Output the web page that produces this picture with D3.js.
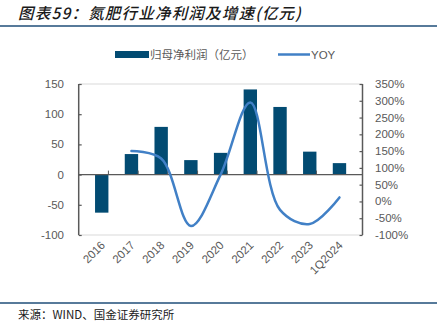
<!DOCTYPE html>
<html>
<head>
<meta charset="utf-8">
<script src="https://cdn.jsdelivr.net/npm/d3@7"></script>
<style>
  body { margin: 0; background: #fff; }
  svg { display: block; font-family: "Liberation Sans", Arial, sans-serif; }
</style>
</head>
<body>
<svg width="442" height="323"></svg>
<script>
// 年份 / 归母净利润（亿元） / YOY (%)
var years = ["2016", "2017", "2018", "2019", "2020", "2021", "2022", "2023", "1Q2024"];
var profit = [-63, 34, 79, 24, 36, 141, 112, 38, 19];
var yoy = [null, 150, 128, -73, 80, 295, -25, -67, 12];
var leftTicks = [-100, -50, 0, 50, 100, 150];
var rightTicks = [-100, -50, 0, 50, 100, 150, 200, 250, 300, 350];

var svg = d3.select("svg");
var cjk = '"Noto Sans CJK SC", sans-serif';
var axisColor = "#595959";

// title + rules
svg.append("text")
    .attr("x", 18).attr("y", 19)
    .attr("font-family", cjk)
    .attr("font-size", 15.5)
    .attr("font-style", "italic")
    .attr("font-weight", 500)
    .attr("letter-spacing", 1.2)
    .attr("fill", "#1a1a1a")
    .text("图表59：氮肥行业净利润及增速(亿元)");
svg.append("line").attr("x1", 0).attr("x2", 437).attr("y1", 26).attr("y2", 26)
    .attr("stroke", "#1f4e79").attr("stroke-width", 1.5);
svg.append("line").attr("x1", 0).attr("x2", 437).attr("y1", 303).attr("y2", 303)
    .attr("stroke", "#1f4e79").attr("stroke-width", 1.5);
svg.append("text")
    .attr("x", 18).attr("y", 319)
    .attr("font-family", cjk)
    .attr("font-size", 11.5)
    .attr("fill", "#1a1a1a")
    .text("来源：WIND、国金证券研究所");

var x = d3.scaleBand().domain(years).range([78.7, 362.5]).padding(0.55);
var yL = d3.scaleLinear().domain([-100, 150]).range([235, 84]);
var yR = d3.scaleLinear().domain([-100, 350]).range([235, 84]);
var step = x.step();
var x0 = 78.7, x1 = 362.5;

// top / bottom gridlines
svg.selectAll(".grid").data([150, -100]).enter().append("line")
    .attr("x1", x0).attr("x2", x1)
    .attr("y1", function(d) { return yL(d); })
    .attr("y2", function(d) { return yL(d); })
    .attr("stroke", "#d9d9d9").attr("stroke-width", 1);

// bars
svg.selectAll(".bar").data(profit).enter().append("rect")
    .attr("x", function(d, i) { return x(years[i]); })
    .attr("width", x.bandwidth())
    .attr("y", function(d) { return d >= 0 ? yL(d) : yL(0); })
    .attr("height", function(d) { return Math.abs(yL(d) - yL(0)); })
    .attr("fill", "#024b72");

// zero axis with category ticks
svg.append("line").attr("x1", x0).attr("x2", x1).attr("y1", yL(0)).attr("y2", yL(0))
    .attr("stroke", axisColor).attr("stroke-width", 1.2);
svg.selectAll(".ctick").data(d3.range(1, years.length)).enter().append("line")
    .attr("x1", function(d) { return x0 + d * step; })
    .attr("x2", function(d) { return x0 + d * step; })
    .attr("y1", yL(0)).attr("y2", yL(0) - 4)
    .attr("stroke", axisColor).attr("stroke-width", 1);

// left axis
var gl = svg.append("g").attr("transform", "translate(" + x0 + ",0)")
    .call(d3.axisRight(yL).tickValues(leftTicks).tickSize(3).tickFormat(""));
gl.select(".domain").attr("stroke", axisColor).attr("stroke-width", 1.5).attr("d", "M0," + yL(-100) + "V" + yL(150));
gl.selectAll(".tick line").attr("stroke", axisColor).attr("stroke-width", 1.2);
svg.selectAll(".ylab").data(leftTicks).enter().append("text")
    .attr("x", 64).attr("y", function(d) { return yL(d) + 4; })
    .attr("text-anchor", "end").attr("font-size", 11.5).attr("fill", axisColor)
    .text(function(d) { return d; });

// right axis
var gr = svg.append("g").attr("transform", "translate(" + x1 + ",0)")
    .call(d3.axisLeft(yR).tickValues(rightTicks).tickSize(3).tickFormat(""));
gr.select(".domain").attr("stroke", axisColor).attr("stroke-width", 1.5).attr("d", "M0," + yR(-100) + "V" + yR(350));
gr.selectAll(".tick line").attr("stroke", axisColor).attr("stroke-width", 1.2);
svg.selectAll(".rlab").data(rightTicks).enter().append("text")
    .attr("x", 375).attr("y", function(d) { return yR(d) + 4; })
    .attr("font-size", 11.5).attr("fill", axisColor)
    .text(function(d) { return d + "%"; });

// x labels
svg.selectAll(".xlab").data(years).enter().append("text")
    .attr("transform", function(d) {
        return "translate(" + (x(d) + x.bandwidth() / 2 + 4) + ",246) rotate(-45)";
    })
    .attr("text-anchor", "end").attr("font-size", 11.5).attr("fill", axisColor)
    .text(function(d) { return d; });

// YOY line
var pts = yoy.map(function(v, i) { return [x(years[i]) + x.bandwidth() / 2, v]; })
    .filter(function(p) { return p[1] !== null; });
var line = d3.line()
    .x(function(p) { return p[0]; })
    .y(function(p) { return yR(p[1]); })
    .curve(d3.curveCatmullRom.alpha(0.5));
svg.append("path").datum(pts).attr("d", line)
    .attr("fill", "none").attr("stroke", "#4180c6").attr("stroke-width", 2.5)
    .attr("stroke-linecap", "round");

// legend
svg.append("rect").attr("x", 115).attr("y", 51).attr("width", 34).attr("height", 7).attr("fill", "#024b72");
svg.append("text").attr("x", 150).attr("y", 59).attr("font-family", cjk)
    .attr("font-size", 11.5).attr("fill", axisColor).text("归母净利润（亿元）");
svg.append("line").attr("x1", 278).attr("x2", 310).attr("y1", 54.5).attr("y2", 54.5)
    .attr("stroke", "#4180c6").attr("stroke-width", 2.5);
svg.append("text").attr("x", 311).attr("y", 59)
    .attr("font-size", 11.5).attr("fill", axisColor).text("YOY");
</script>
</body>
</html>
